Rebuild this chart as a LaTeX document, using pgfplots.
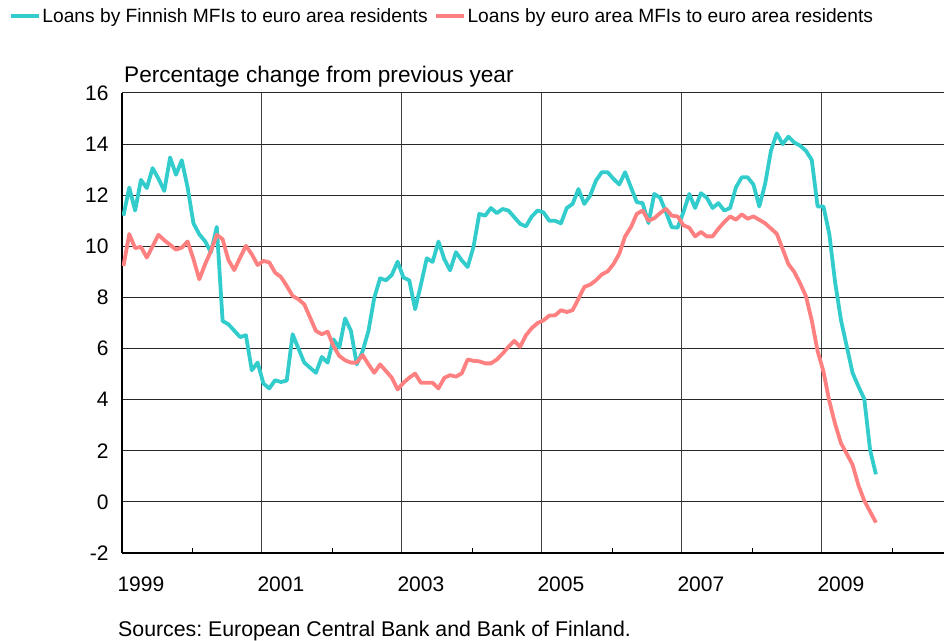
\documentclass[border=0pt]{standalone}
\usepackage{fontspec}
\setmainfont{Liberation Sans}
\usepackage{pgfplots}
\usepackage{pgfplotstable}
\pgfplotsset{compat=1.18}
\definecolor{fincyan}{RGB}{51,204,204}
\definecolor{eared}{RGB}{255,128,128}
\frenchspacing

\pgfplotstableread{
k fi ea
0 11.2 9.23
1 12.3 10.48
2 11.4 9.93
3 12.6 9.98
4 12.28 9.56
5 13.06 10.0
6 12.65 10.45
7 12.17 10.24
8 13.48 10.06
9 12.8 9.87
10 13.37 9.95
11 12.3 10.19
12 10.9 9.5
13 10.47 8.71
14 10.2 9.3
15 9.76 9.82
16 10.76 10.45
17 7.08 10.28
18 6.95 9.46
19 6.7 9.07
20 6.45 9.56
21 6.52 10.02
22 5.15 9.69
23 5.45 9.27
24 4.63 9.43
25 4.44 9.37
26 4.76 8.97
27 4.69 8.8
28 4.75 8.45
29 6.56 8.06
30 6.0 7.93
31 5.45 7.73
32 5.25 7.21
33 5.05 6.69
34 5.67 6.56
35 5.45 6.66
36 6.36 6.1
37 6.03 5.71
38 7.18 5.54
39 6.69 5.45
40 5.38 5.45
41 5.9 5.75
42 6.69 5.38
43 7.99 5.05
44 8.75 5.38
45 8.67 5.12
46 8.88 4.86
47 9.4 4.4
48 8.78 4.66
49 8.67 4.86
50 7.54 5.02
51 8.51 4.66
52 9.53 4.66
53 9.39 4.66
54 10.19 4.44
55 9.5 4.85
56 9.06 4.96
57 9.77 4.9
58 9.45 5.03
59 9.19 5.57
60 9.97 5.52
61 11.27 5.5
62 11.2 5.42
63 11.5 5.42
64 11.3 5.57
65 11.46 5.8
66 11.4 6.07
67 11.14 6.3
68 10.88 6.07
69 10.78 6.52
70 11.17 6.8
71 11.4 7.0
72 11.33 7.1
73 11.0 7.29
74 11.0 7.3
75 10.9 7.5
76 11.5 7.43
77 11.66 7.5
78 12.24 7.95
79 11.66 8.41
80 11.98 8.5
81 12.57 8.67
82 12.9 8.9
83 12.9 9.02
84 12.64 9.3
85 12.42 9.71
86 12.9 10.39
87 12.31 10.75
88 11.73 11.27
89 11.69 11.4
90 10.91 11.0
91 12.05 11.1
92 11.9 11.3
93 11.34 11.47
94 10.75 11.2
95 10.73 11.17
96 11.34 10.82
97 12.05 10.73
98 11.5 10.39
99 12.08 10.56
100 11.9 10.39
101 11.5 10.39
102 11.69 10.69
103 11.4 10.95
104 11.5 11.17
105 12.31 11.04
106 12.7 11.25
107 12.7 11.08
108 12.42 11.17
109 11.56 11.04
110 12.44 10.9
111 13.74 10.7
112 14.42 10.49
113 14.0 9.9
114 14.29 9.3
115 14.06 9.0
116 13.94 8.55
117 13.74 8.05
118 13.38 7.1
119 11.56 5.9
120 11.56 5.1
121 10.49 3.95
122 8.6 3.05
123 7.12 2.3
124 6.08 1.88
125 5.04 1.45
126 4.52 0.65
127 4.03 0.05
128 2.03 -0.38
129 1.08 -0.81
}\loans

\begin{document}
\begin{tikzpicture}
\useasboundingbox (0bp,0bp) rectangle (944bp,641bp);
\begin{axis}[
  at={(122bp,88bp)}, anchor=south west,
  scale only axis, width=822bp, height=460bp,
  xmin=1999, xmax=2010.743, ymin=-2, ymax=16,
  axis x line*=bottom, axis y line*=left,
  x axis line style={line width=2.4bp, black},
  y axis line style={line width=2bp, black},
  xtick={1999,2001,2003,2005,2007,2009},
  xticklabels={1999,2001,2003,2005,2007,2009},
  xmajorgrids,
  major x grid style={line width=1bp, black!75},
  extra x ticks={2000,2002,2004,2006,2008,2010},
  extra x tick labels={},
  extra x tick style={grid=none, major tick length=5bp, major tick style={line width=0.8bp, black}},
  major tick length=0pt,
  ytick={-2,0,...,16},
  ymajorgrids,
  major y grid style={line width=1bp, black!85},
  tick label style={font=\fontsize{21bp}{25bp}\selectfont},
  /pgf/number format/assume math mode=true,
  xticklabel style={anchor=north west, yshift=-20bp, xshift=-8bp},
  yticklabel style={anchor=east, xshift=-10bp},
  legend style={at={(axis description cs:-0.1375,1.167)}, anchor=west, draw=none, fill=none,
    font=\fontsize{19.2bp}{22bp}\selectfont, inner sep=0pt,
    nodes={inner sep=1.5bp},
    /tikz/every even column/.append style={column sep=5bp}},
  legend columns=2,
  legend image code/.code={\draw[#1] (0bp,0bp) -- (28bp,0bp);},
  every axis plot/.append style={line width=3.8bp, line join=round},
]
\addplot[fincyan] table[x expr={1999+(\thisrow{k}+0.25)/12}, y=fi] {\loans};
\addlegendentry{Loans by Finnish MFIs to euro area residents}
\addplot[eared] table[x expr={1999+(\thisrow{k}+0.25)/12}, y=ea] {\loans};
\addlegendentry{Loans by euro area MFIs to euro area residents}
\end{axis}
\node[anchor=base west, inner sep=0pt, font=\fontsize{22.6bp}{26bp}\selectfont] at (124bp,558bp) {Percentage change from previous year};
\node[anchor=base west, inner sep=0pt, font=\fontsize{21.3bp}{25bp}\selectfont] at (118bp,5bp) {Sources: European Central Bank and Bank of Finland.};
\end{tikzpicture}
\end{document}
